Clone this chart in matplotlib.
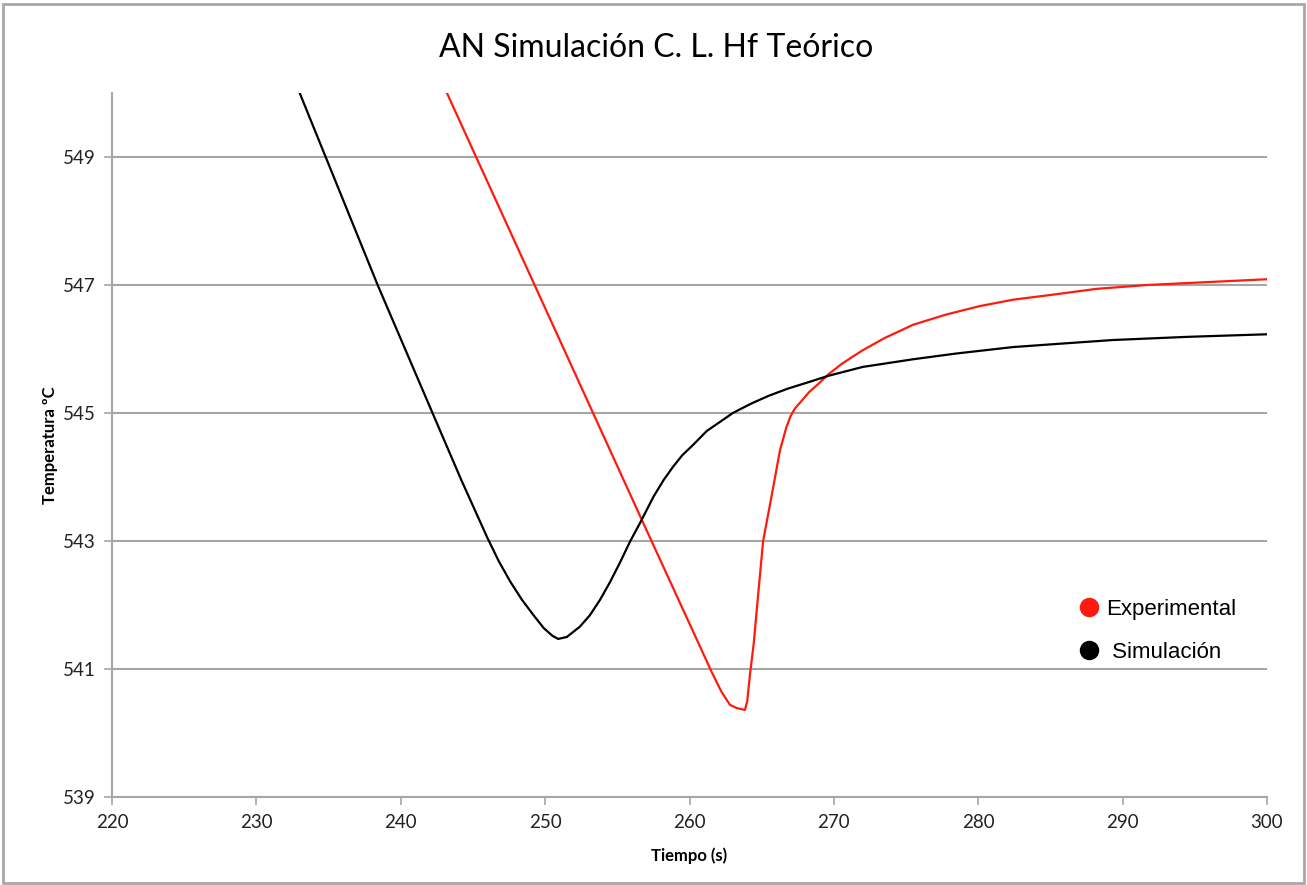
import matplotlib.pyplot as plt
from matplotlib.lines import Line2D
from matplotlib.patches import Rectangle

# Experimental curve (time s, temperature ºC)
t_exp = [243.2, 245.22, 249.27, 253.32, 256.8, 260.73, 261.5, 262.2, 262.8, 263.27,
         263.84, 264.0, 264.2, 264.45, 264.75, 265.1, 265.6, 266.27, 266.7, 267.0,
         267.3, 267.65, 268.3, 269.0, 269.6, 270.5, 271.3, 272.0, 273.5, 275.5,
         277.8, 280.1, 282.4, 285.2, 288.2, 291.7, 296.3, 300.0]
T_exp = [550.0, 549.0, 547.0, 545.0, 543.28, 541.35, 540.97, 540.65, 540.44, 540.39,
         540.36, 540.5, 540.94, 541.4, 542.15, 543.0, 543.6, 544.42, 544.77, 544.95,
         545.07, 545.16, 545.33, 545.47, 545.6, 545.76, 545.88, 545.98, 546.17, 546.38,
         546.54, 546.67, 546.77, 546.85, 546.94, 547.0, 547.05, 547.09]

# Simulated curve
t_sim = [233.0, 234.8, 238.4, 242.2, 244.2, 245.2, 246.0, 246.8, 247.6, 248.4,
         249.2, 249.9, 250.5, 250.9, 251.5, 252.4, 253.1, 253.8, 254.5, 255.2,
         255.9, 256.57, 257.5, 258.2, 258.86, 259.5, 260.24, 261.2, 262.3, 263.0,
         264.3, 265.5, 266.8, 268.5, 269.6, 272.0, 275.5, 278.5, 282.4, 285.5,
         289.3, 294.5, 300.0]
T_sim = [550.0, 549.0, 547.0, 545.0, 543.95, 543.45, 543.05, 542.68, 542.36, 542.08,
         541.84, 541.64, 541.52, 541.47, 541.5, 541.66, 541.84, 542.08, 542.36, 542.67,
         543.0, 543.28, 543.69, 543.95, 544.16, 544.34, 544.5, 544.72, 544.89, 545.0,
         545.15, 545.27, 545.38, 545.5, 545.58, 545.72, 545.84, 545.93, 546.03, 546.08,
         546.14, 546.19, 546.23]

x_ticks = [220, 230, 240, 250, 260, 270, 280, 290, 300]
y_ticks = [539, 541, 543, 545, 547, 549]

grid_c = '#a6a6a6'
font = 'Lato'

fig = plt.figure(figsize=(13.07, 8.85), dpi=100)
ax = fig.add_axes((112 / 1307, 88 / 885, 1155 / 1307, 704 / 885))

ax.plot(t_exp, T_exp, color='#ff1a0d', lw=1.6, solid_joinstyle='round')
ax.plot(t_sim, T_sim, color='black', lw=1.6, solid_joinstyle='round')

ax.set_xlim(220, 300)
ax.set_ylim(539, 550)
ax.set_xticks(x_ticks)
ax.set_yticks(y_ticks)
ax.yaxis.grid(True, color=grid_c, lw=1.5)
ax.set_axisbelow(True)
for s in ['top', 'right']:
    ax.spines[s].set_visible(False)
for s in ['left', 'bottom']:
    ax.spines[s].set_color(grid_c)
    ax.spines[s].set_linewidth(1.5)
ax.tick_params(colors=grid_c, labelcolor='#222222', length=6, width=1.2,
               labelsize=13.5, pad=6)
for lab in ax.get_xticklabels() + ax.get_yticklabels():
    lab.set_family(font)

ax.set_xlabel('Tiempo (s)', fontsize=12, fontweight='bold', family=font, labelpad=12)
ax.set_ylabel('Temperatura ºC', fontsize=12, fontweight='bold', family=font, labelpad=3)

fig.text(0.502, 0.946, 'AN Simulación C. L. Hf Teórico', ha='center', va='center',
         fontsize=23, family=font)

handles = [Line2D([], [], ls='none', marker='o', ms=13, color='#ff1a0d'),
           Line2D([], [], ls='none', marker='o', ms=13, color='black')]
ax.legend(handles, ['Experimental', ' Simulación'], loc='upper left',
          bbox_to_anchor=(0.809, 0.31), frameon=False, handletextpad=-0.2,
          labelspacing=1.0, prop={'family': 'Liberation Sans', 'size': 16})

# outer chart frame
fig.patches.append(Rectangle((0.002, 0.002), 0.996, 0.993, transform=fig.transFigure,
                             fill=False, edgecolor='#a8a8a8', lw=2))

fig.savefig('out.png', dpi=100)
